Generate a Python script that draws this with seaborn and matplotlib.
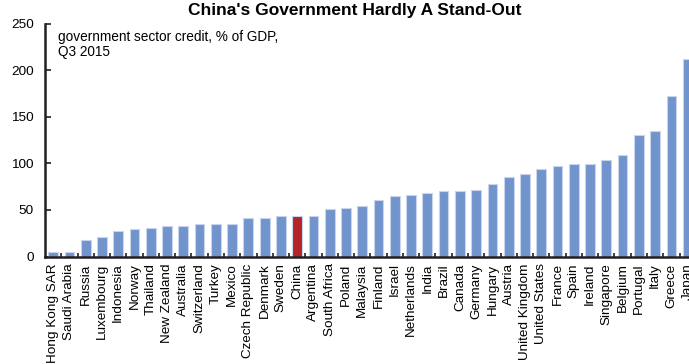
import matplotlib
matplotlib.use("Agg")
import matplotlib.pyplot as plt
import seaborn as sns
import pandas as pd
import numpy as np

countries = ["Hong Kong SAR", "Saudi Arabia", "Russia", "Luxembourg", "Indonesia", "Norway",
             "Thailand", "New Zealand", "Australia", "Switzerland", "Turkey", "Mexico",
             "Czech Republic", "Denmark", "Sweden", "China", "Argentina", "South Africa",
             "Poland", "Malaysia", "Finland", "Israel", "Netherlands", "India", "Brazil",
             "Canada", "Germany", "Hungary", "Austria", "United Kingdom", "United States",
             "France", "Spain", "Ireland", "Singapore", "Belgium", "Portugal", "Italy",
             "Greece", "Japan"]
values = [4.5, 4.5, 17.7, 21.3, 27.4, 29.8, 30.9, 32.4, 32.7, 34.5, 34.5, 34.9,
          41.3, 41.6, 43.1, 43.5, 43.8, 51.3, 52.0, 54.5, 61.0, 64.9, 66.3, 68.1,
          70.6, 70.6, 71.7, 78.1, 85.0, 88.5, 93.9, 97.1, 99.6, 99.6, 103.9, 108.9,
          130.4, 135.0, 172.2, 211.9]
yticks = [0, 50, 100, 150, 200, 250]
title = "China's Government Hardly A Stand-Out"
note = "government sector credit, % of GDP,\nQ3 2015"

BLUE = "#7294CC"
RED = "#B22428"
DARK = "#231F20"

sns.set_style("ticks")
plt.rcParams['font.family'] = ['Liberation Sans', 'DejaVu Sans']

df = pd.DataFrame({"country": countries, "value": values})
df["grp"] = np.where(df["country"] == "China", "China", "Other")

fig = plt.figure(figsize=(6.89, 3.64), dpi=100)
ax = fig.add_axes([45 / 689, 107.5 / 364, 650.8 / 689, 233 / 364])

sns.barplot(data=df, x="country", y="value", hue="grp",
            palette={"China": RED, "Other": BLUE}, dodge=False, legend=False,
            width=0.6, edgecolor="#C8D5EC", linewidth=0.8, saturation=1, ax=ax)

n = len(countries)
ax.set_xlim(-0.5, n - 0.5)
ax.set_ylim(0, 250)
ax.set_yticks(yticks)
ax.set_xlabel("")
ax.set_ylabel("")

for s in ["top", "right"]:
    ax.spines[s].set_visible(False)
for s in ["left", "bottom"]:
    ax.spines[s].set_linewidth(1.8)
    ax.spines[s].set_color(DARK)

ax.tick_params(axis="y", direction="in", length=4, width=1.2, color=DARK,
               labelsize=9.7, labelcolor="black", pad=8)
ax.tick_params(axis="x", which="major", length=0, labelsize=9.7,
               labelcolor="black", labelrotation=90, pad=5)
ax.set_xticks(np.arange(n - 1) + 0.5, minor=True)
ax.tick_params(axis="x", which="minor", direction="in", length=3, width=1.2, color=DARK)

fig.text(355 / 689, 1 - 10 / 364, title, ha="center", va="center",
         fontsize=12.5, fontweight="bold", color="black")
fig.text(58 / 689, 1 - 30 / 364, note, ha="left", va="top",
         fontsize=9.8, color="black", linespacing=1.1)

fig.savefig("out.png", dpi=100)
